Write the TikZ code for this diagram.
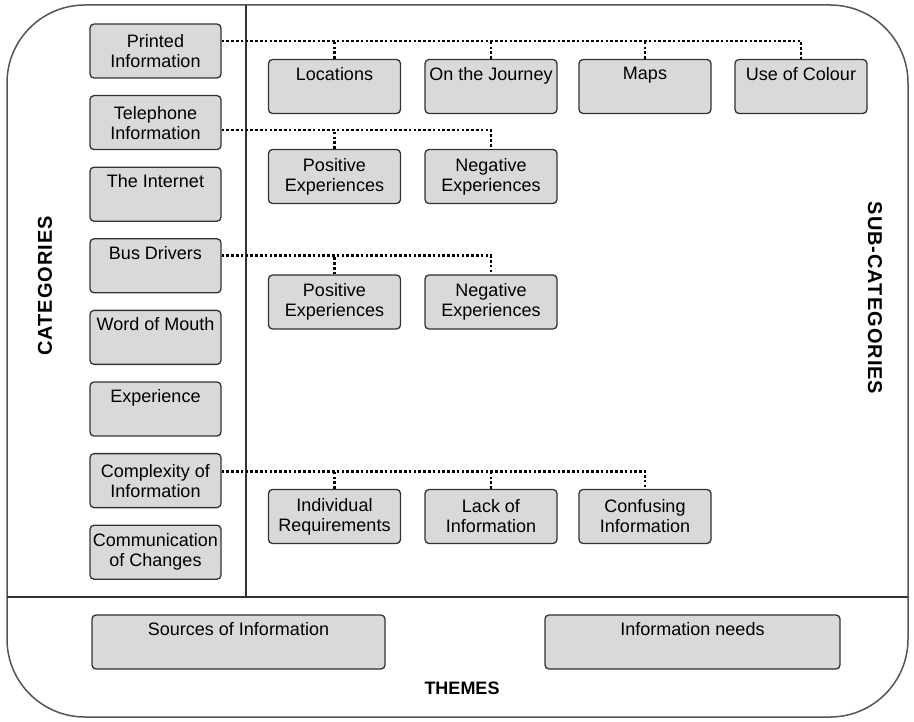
\documentclass[tikz,border=0pt]{standalone}
\usepackage{fontspec}
\setmainfont{Liberation Sans}
\definecolor{boxfill}{HTML}{D9D9D9}
\definecolor{boxline}{HTML}{333333}
\definecolor{frameline}{HTML}{555555}

\begin{document}
\begin{tikzpicture}[x=1pt, y=-1pt,
  box/.style={draw=boxline, fill=boxfill, line width=1.3pt, rounded corners=4pt, minimum width=131pt, minimum height=54pt, inner sep=2pt, align=center, font=\fontsize{18}{20}\selectfont},
  link/.style={line width=2.8pt, dash pattern=on 2.6pt off 2.2pt},
  heading/.style={font=\fontsize{20}{24}\selectfont\bfseries\addfontfeatures{LetterSpace=5}}]
\useasboundingbox (0,0) rectangle (914,722);
% frame and dividers
\draw [frameline, line width=1.5pt, rounded corners=78pt] (7,5) rectangle (908,717);
\draw [boxline, line width=1.3pt] (246,5) -- (246,597) (7,597) -- (908,597);
% categories
\foreach \nm/\txt [count=\i from 0] in {printed/{Printed\\Information}, phone/{Telephone\\Information}, internet/{The Internet\\\strut}, drivers/{Bus Drivers\\\strut}, mouth/{Word of Mouth\\\strut}, exper/{Experience\\\strut}, complex/{Complexity of\\Information}, changes/{Communication\\of Changes}}
  \node [box] (\nm) at (155.5, 51+71.6*\i) {\txt};
% sub-categories
\foreach \nm/\txt/\x/\y in {locations/{Locations\\\strut}/334.5/86.5, journey/{On the Journey\\\strut}/491/86.5, maps/{Maps\\\strut}/645/86.5, colour/{Use of Colour\\\strut}/801/86.5,
  telpos/{Positive\\Experiences}/334.5/176.5, telneg/{Negative\\Experiences}/491/176.5,
  buspos/{Positive\\Experiences}/334.5/302, busneg/{Negative\\Experiences}/491/302,
  indiv/{Individual\\Requirements}/334.5/516.5, lack/{Lack of\\Information}/491/516.5, confusing/{Confusing\\Information}/645/516.5}
  \node [box, minimum width=132pt] (\nm) at (\x,\y) {\txt};
% themes
\node [box, minimum width=293pt] (sources) at (238.5,642) {Sources of Information\\\strut};
\node [box, minimum width=295pt] (needs) at (692.5,642) {Information needs\\\strut};
% headings
\node [heading, rotate=90] (cats) at (45,286) {CATEGORIES};
\node [heading, rotate=-90] (subcats) at (875,298) {SUB-CATEGORIES};
\node [heading, font=\fontsize{18}{20}\selectfont\bfseries] (themes) at (462,688) {THEMES};
% dotted links
\foreach \src/\shift/\last/\others in {printed/10/colour/{locations,journey,maps}, phone/-7.5/telneg/{telpos}, drivers/10/busneg/{buspos}, complex/9.5/confusing/{indiv,lack}} {
  \coordinate (\src-line) at ([yshift=\shift pt]\src.east);
  \draw [link] (\src-line) -| (\last.north);
  \foreach \b in \others
    \draw [link] (\b.north) -- (\b.north |- \src-line);
}
\end{tikzpicture}
\end{document}
